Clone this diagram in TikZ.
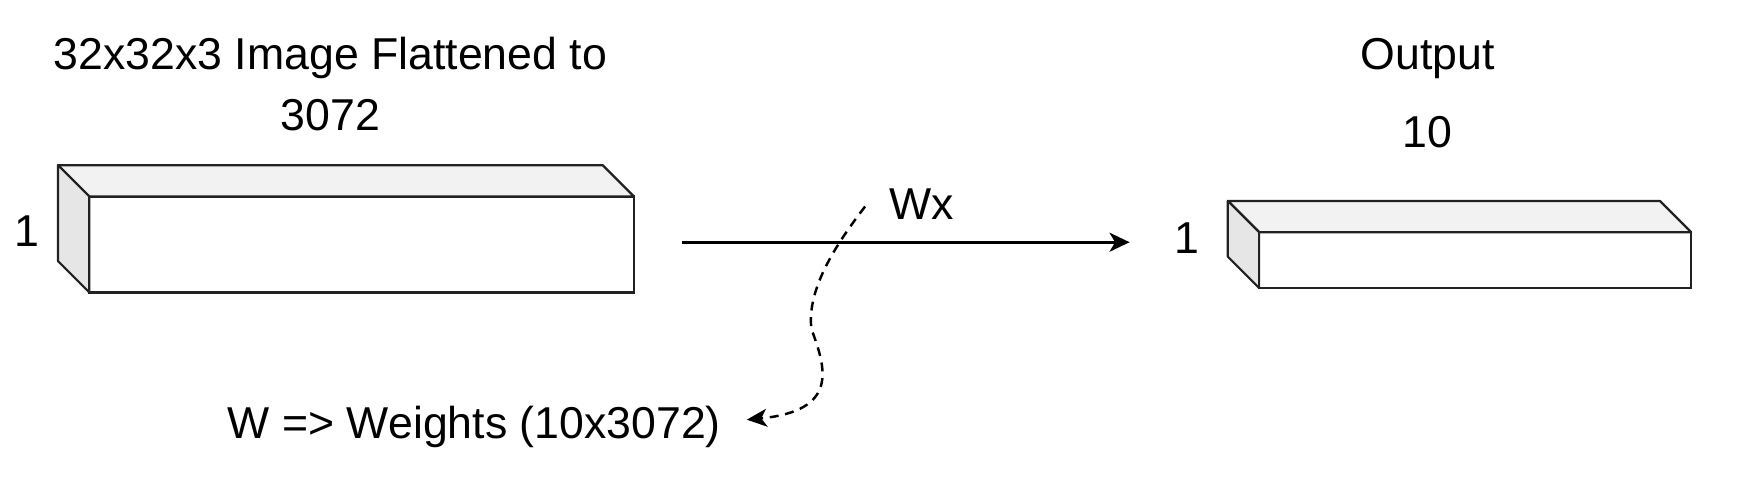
\documentclass[tikz,border=0pt]{standalone}
\usepackage{fontspec}
\setmainfont{Liberation Sans}
\usetikzlibrary{arrows.meta}
\definecolor{topgray}{HTML}{F2F2F2}
\definecolor{sidegray}{HTML}{E6E6E6}
\definecolor{edgegray}{HTML}{222222}
\begin{document}
\begin{tikzpicture}[x=0.5pt,y=-0.5pt,
  lbl/.style={inner sep=0pt, anchor=base, font=\fontsize{20pt}{24pt}\selectfont},
  frontface/.style={draw=edgegray, fill=white, line width=1pt, inner sep=0pt, outer sep=0pt},
  topface/.style={draw=edgegray, fill=topgray, line width=1pt, line join=round},
  sideface/.style={draw=edgegray, fill=sidegray, line width=1pt, line join=round},
  mainarrow/.style={line width=1.2pt, -{Stealth[length=9pt,width=8.5pt,inset=2.5pt]}},
  dasharrow/.style={line width=1.1pt, dash pattern=on 4pt off 3pt, -{Stealth[length=9pt,width=8pt,inset=2.5pt]}}]
\useasboundingbox (0,0) rectangle (1566,450);

% input box
\node[frontface, minimum width=244pt, minimum height=43pt] (in) at (324,219) {};
\draw[topface] (in.north west) -- ++(-14pt,14pt) -- ([xshift=-14pt,yshift=14pt]in.north east) -- (in.north east) -- cycle;
\draw[sideface] (in.north west) -- ++(-14pt,14pt) -- ([xshift=-14pt,yshift=14pt]in.south west) -- (in.south west) -- cycle;

% output box
\node[frontface, minimum width=193.5pt, minimum height=25pt] (out) at (1321.5,233) {};
\draw[topface] (out.north west) -- ++(-14pt,14pt) -- ([xshift=-14pt,yshift=14pt]out.north east) -- (out.north east) -- cycle;
\draw[sideface] (out.north west) -- ++(-14pt,14pt) -- ([xshift=-14pt,yshift=14pt]out.south west) -- (out.south west) -- cycle;

% labels
\node[lbl] (t1) at (296,62) {32x32x3 Image Flattened to};
\node[lbl] (t2) at (296,117) {3072};
\node[lbl] (o1) at (1279,62) {Output};
\node[lbl] (o2) at (1279,132) {10};
\node[lbl] (h1) at (24,221) {1};
\node[lbl] (h2) at (1063,227) {1};
\node[lbl] (wx) at (826,197) {Wx};
\node[lbl] (wl) at (425,393) {W => Weights (10x3072)};

% connectors
\coordinate (a0) at (611,217);
\coordinate (a1) at (1012,217);
\draw[mainarrow] (a0) -- (a1);

\coordinate (d0) at (775,185);
\coordinate (d1) at (727,295);
\coordinate (d2) at (669,376);
\draw[dasharrow] (d0) .. controls (752,215) and (722,258) .. (d1)
  .. controls (740,330) and (752,368) .. (d2);
\end{tikzpicture}
\end{document}
